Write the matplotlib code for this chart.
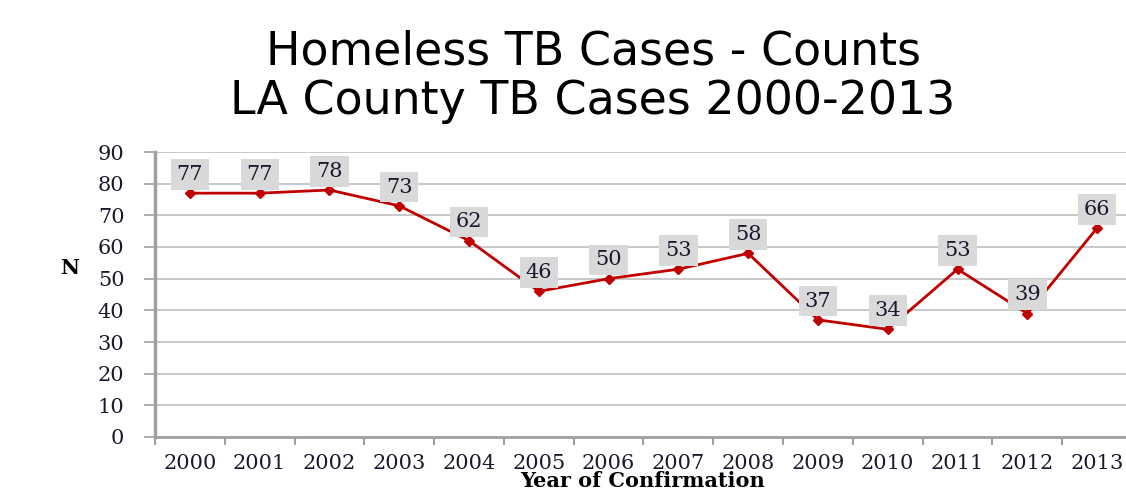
import matplotlib
matplotlib.use("Agg")
import matplotlib.pyplot as plt
import numpy as np

years = ["2000", "2001", "2002", "2003", "2004", "2005", "2006",
         "2007", "2008", "2009", "2010", "2011", "2012", "2013"]
counts = [77, 77, 78, 73, 62, 46, 50, 53, 58, 37, 34, 53, 39, 66]
title_lines = ["Homeless TB Cases - Counts", "LA County TB Cases 2000-2013"]

W, H = 1126, 492
fig = plt.figure(figsize=(W / 100, H / 100), dpi=100)
ax = fig.add_axes([155 / W, (H - 437) / H, (1132 - 155) / W, (437 - 152) / H])

x = np.arange(len(years))
ax.plot(x, counts, color="#c00000", lw=2, marker="D", ms=5, zorder=3)

for xi, v in zip(x, counts):
    ax.annotate(str(v), (xi, v), xytext=(0, 13.5), textcoords="offset points",
                ha="center", va="center", fontsize=15, family="DejaVu Serif",
                color="#1a1a2e", zorder=4,
                bbox=dict(boxstyle="square,pad=0.28", fc="#d9d9d9", ec="none"))

ax.set_xlim(-0.5, len(years) - 0.5)
ax.set_ylim(0, 90)
ax.set_yticks(range(0, 91, 10))
ax.set_xticks(x)
ax.set_xticklabels(years)
ax.set_xticks(np.arange(-0.5, len(years)), minor=True)
ax.tick_params(axis="x", which="major", length=0, pad=12)
ax.tick_params(axis="x", which="minor", length=6, color="#a0a0a0", width=1.5)
ax.tick_params(axis="y", length=8, color="#a0a0a0", width=1.2, pad=14)
for lab in ax.get_xticklabels() + ax.get_yticklabels():
    lab.set_family("DejaVu Serif")
    lab.set_fontsize(15)
    lab.set_color("#1a1a2e")

ax.grid(axis="y", color="#bfbfbf", lw=1.2)
ax.set_axisbelow(True)
for s in ["top", "right"]:
    ax.spines[s].set_visible(False)
ax.spines["left"].set_color("#a0a0a0")
ax.spines["left"].set_linewidth(2.5)
ax.spines["bottom"].set_color("#a0a0a0")
ax.spines["bottom"].set_linewidth(2)

fig.text(643 / W, (H - 481) / H, "Year of Confirmation", family="DejaVu Serif",
         fontweight="bold", fontsize=15, ha="center", va="center")
fig.text(70 / W, (H - 268) / H, "N", family="DejaVu Serif", fontweight="bold",
         fontsize=15, ha="center", va="center")

fig.text(593 / W, (H - 52) / H, title_lines[0], family="DejaVu Sans",
         fontsize=33, ha="center", va="center")
fig.text(593 / W, (H - 101) / H, title_lines[1], family="DejaVu Sans",
         fontsize=33, ha="center", va="center")

fig.savefig("out.png", dpi=100)
